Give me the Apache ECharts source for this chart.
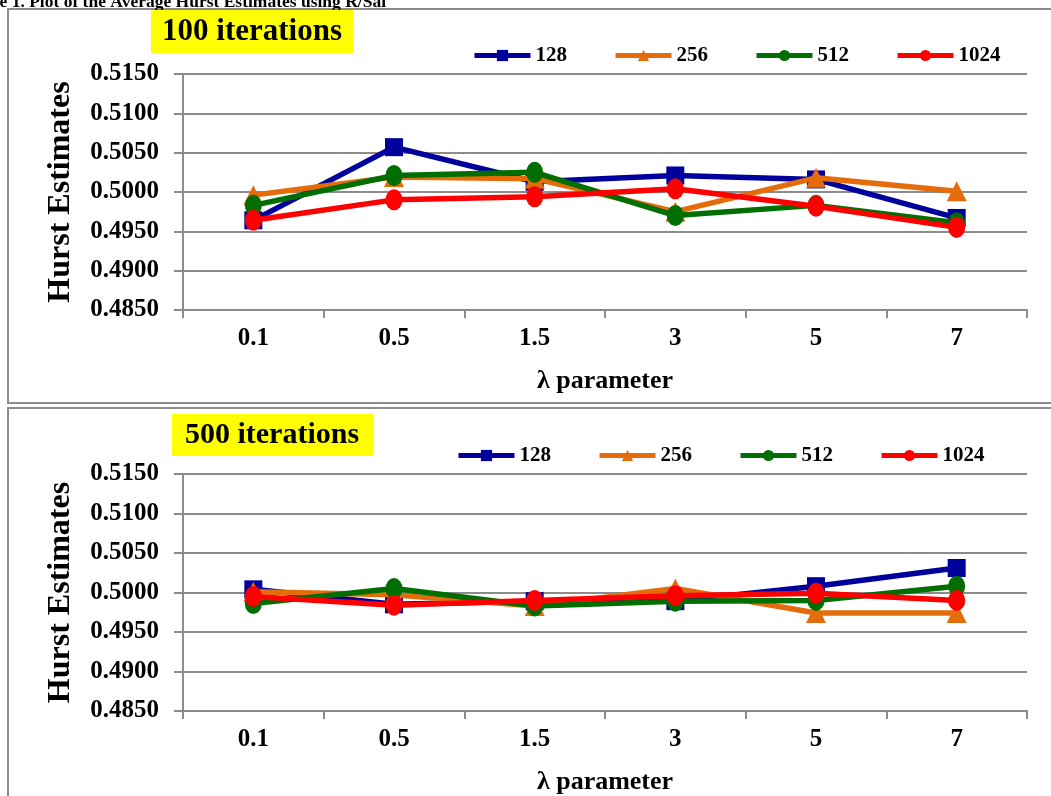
<!DOCTYPE html>
<html>
<head>
<meta charset="utf-8">
<script src="https://cdn.jsdelivr.net/npm/echarts@6/dist/echarts.min.js"></script>
<style>
html,body{margin:0;padding:0;background:#fff;}
#c{width:1051px;height:796px;}
</style>
</head>
<body>
<div id="c"></div>
<script>
var lambdas = ['0.1','0.5','1.5','3','5','7'];
var seriesNames = ['128','256','512','1024'];
var yTicks = [0.4850,0.4900,0.4950,0.5000,0.5050,0.5100,0.5150];

var h100_128  = [0.4964, 0.5057, 0.5013, 0.5021, 0.5016, 0.4967];
var h100_256  = [0.4996, 0.5019, 0.5017, 0.4975, 0.5018, 0.5001];
var h100_512  = [0.4983, 0.5021, 0.5025, 0.4970, 0.4983, 0.4961];
var h100_1024 = [0.4964, 0.4990, 0.4994, 0.5004, 0.4982, 0.4955];

var h500_128  = [0.5004, 0.4985, 0.4989, 0.4989, 0.5008, 0.5031];
var h500_256  = [0.5001, 0.4997, 0.4983, 0.5005, 0.4974, 0.4974];
var h500_512  = [0.4986, 0.5005, 0.4983, 0.4989, 0.4990, 0.5008];
var h500_1024 = [0.4995, 0.4984, 0.4990, 0.4996, 0.4999, 0.4990];

var FONT = '"Liberation Serif","Times New Roman",serif';
var colors = ['#00009C','#E46C0A','#006E00','#FF0000'];
var symbols = ['rect','triangle','circle','circle'];
var sizes = [18, 20, [17,21], [17,21]];
var GRAY = '#8C8C8C';

function xAxisCfg(gi){
  return {
    type:'category', gridIndex:gi, data:lambdas, boundaryGap:true,
    axisLine:{lineStyle:{color:GRAY,width:2}},
    axisTick:{show:true,length:8,lineStyle:{color:GRAY,width:2}},
    axisLabel:{color:'#000',fontFamily:FONT,fontWeight:'bold',fontSize:25,margin:16},
    name:'λ parameter', nameLocation:'middle', nameGap:58,
    nameTextStyle:{color:'#000',fontFamily:FONT,fontWeight:'bold',fontSize:26}
  };
}
function yAxisCfg(gi){
  return {
    type:'value', gridIndex:gi, min:yTicks[0], max:yTicks[yTicks.length-1], interval:0.005,
    axisLine:{show:true,lineStyle:{color:GRAY,width:2}},
    axisTick:{show:true,length:9,lineStyle:{color:GRAY,width:2}},
    splitLine:{show:true,lineStyle:{color:GRAY,width:2}},
    axisLabel:{color:'#000',fontFamily:FONT,fontWeight:'bold',fontSize:25,margin:24,
      formatter:function(v){return v.toFixed(4);}},
    name:'Hurst Estimates', nameLocation:'middle', nameGap:106, nameRotate:90,
    nameTextStyle:{color:'#000',fontFamily:FONT,fontWeight:'bold',fontSize:32}
  };
}
function mk(name, data, i, gi){
  return {
    name:name, type:'line', xAxisIndex:gi, yAxisIndex:gi, data:data,
    symbol:symbols[i], symbolSize:sizes[i], showSymbol:true,
    lineStyle:{color:colors[i],width:5.5},
    itemStyle:{color:colors[i]},
    animation:false, z:2+i
  };
}
function legendCfg(left, top){
  return {
    data:seriesNames, left:left, top:top, itemWidth:56, itemHeight:14, itemGap:46,
    lineStyle:{width:5},
    textStyle:{color:'#000',fontFamily:FONT,fontWeight:'bold',fontSize:21,padding:[0,0,0,0]},
    selectedMode:false
  };
}

var chart = echarts.init(document.getElementById('c'));
chart.setOption({
  backgroundColor:'#fff',
  animation:false,
  graphic:[
    {type:'text', x:-42, y:-7, style:{text:'Figure 1. Plot of the Average Hurst Estimates using R/Sal',
      font:'bold 17.5px '+FONT, fill:'#000'}},
    {type:'rect', shape:{x:8,y:9,width:1060,height:394}, style:{fill:'none',stroke:GRAY,lineWidth:2}, z:-1},
    {type:'rect', shape:{x:8,y:408,width:1060,height:400}, style:{fill:'none',stroke:GRAY,lineWidth:2}, z:-1},
    {type:'rect', shape:{x:151,y:10,width:202,height:43}, style:{fill:'#FFFF00'}},
    {type:'text', x:252, y:32, style:{text:'100 iterations', font:'bold 31px '+FONT, fill:'#000',
      textAlign:'center', textVerticalAlign:'middle'}},
    {type:'rect', shape:{x:172,y:414,width:201,height:42}, style:{fill:'#FFFF00'}},
    {type:'text', x:272, y:435, style:{text:'500 iterations', font:'bold 30px '+FONT, fill:'#000',
      textAlign:'center', textVerticalAlign:'middle'}}
  ],
  legend:[legendCfg(467,40), legendCfg(451,440)],
  grid:[
    {left:183, right:24, top:74, height:236},
    {left:183, right:24, top:474, height:238}
  ],
  xAxis:[xAxisCfg(0), xAxisCfg(1)],
  yAxis:[yAxisCfg(0), yAxisCfg(1)],
  series:[
    mk('128',h100_128,0,0), mk('256',h100_256,1,0), mk('512',h100_512,2,0), mk('1024',h100_1024,3,0),
    mk('128',h500_128,0,1), mk('256',h500_256,1,1), mk('512',h500_512,2,1), mk('1024',h500_1024,3,1)
  ]
});
</script>
</body>
</html>
